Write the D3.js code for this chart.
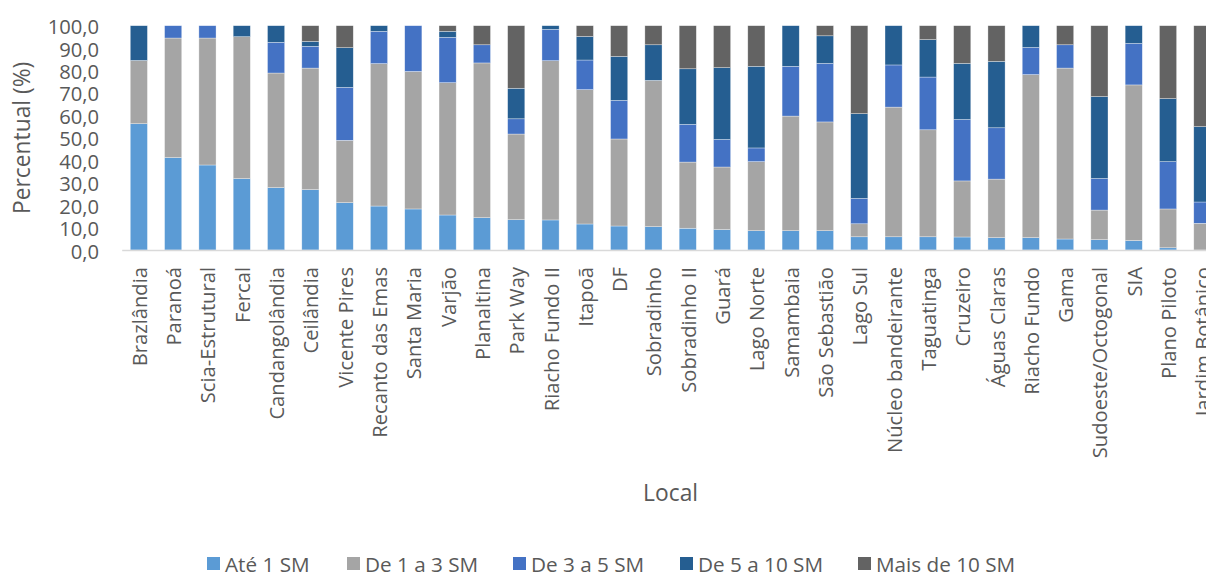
<!DOCTYPE html>
<html>
<head>
<meta charset="utf-8">
<script src="https://cdn.jsdelivr.net/npm/d3@7"></script>
<style>
  body { margin: 0; background: #fff; }
  svg { display: block; }
</style>
</head>
<body>
<svg id="chart" width="1206" height="572"></svg>
<script>
const categories = ["Brazlândia","Paranoá","Scia-Estrutural","Fercal","Candangolândia","Ceilândia","Vicente Pires","Recanto das Emas","Santa Maria","Varjão","Planaltina","Park Way","Riacho Fundo II","Itapoã","DF","Sobradinho","Sobradinho II","Guará","Lago Norte","Samambaia","São Sebastião","Lago Sul","Núcleo bandeirante","Taguatinga","Cruzeiro","Águas Claras","Riacho Fundo","Gama","Sudoeste/Octogonal","SIA","Plano Piloto","Jardim Botânico"];

const seriesNames = ["Até 1 SM","De 1 a 3 SM","De 3 a 5 SM","De 5 a 10 SM","Mais de 10 SM"];

const ate1 =   [56.3,41.2,37.9,31.8,27.8,26.9,21.1,19.6,18.3,15.6,14.4,13.5,13.4,11.6,10.7,10.4,9.7,9.1,8.6,8.6,8.6,5.9,5.9,5.9,5.8,5.5,5.5,4.9,4.6,4.2,1.0,0.0];
const de1a3 =  [28.2,53.3,56.6,63.3,51.1,54.2,27.8,63.5,61.3,59.0,69.0,38.2,71.0,59.9,38.8,65.2,29.5,27.9,30.8,51.1,48.5,5.8,57.8,47.7,25.0,26.1,72.7,76.2,13.2,69.4,17.3,11.9];
const de3a5 =  [0.0,5.5,5.5,0.0,13.7,9.7,23.6,14.4,20.4,20.2,8.1,6.8,14.0,13.2,17.2,0.0,16.8,12.3,6.1,22.2,26.1,11.3,18.8,23.5,27.4,22.9,12.1,10.4,14.1,18.5,21.1,9.5];
const de5a10 = [15.5,0.0,0.0,4.9,7.4,2.2,17.7,2.5,0.0,2.7,0.0,13.6,1.6,10.5,19.6,15.9,24.8,32.0,36.4,18.1,12.3,37.8,17.5,16.7,25.0,29.6,9.7,0.0,36.5,7.9,28.1,33.6];
const mais10 = [0.0,0.0,0.0,0.0,0.0,7.0,9.8,0.0,0.0,2.5,8.5,27.9,0.0,4.8,13.7,8.5,19.2,18.7,18.1,0.0,4.5,39.2,0.0,6.2,16.8,15.9,0.0,8.5,31.6,0.0,32.5,45.0];

const yTicks = [0,10,20,30,40,50,60,70,80,90,100];
const colors = ["#5b9bd5","#a5a5a5","#4472c4","#255e91","#636363"];

const seriesValues = [ate1, de1a3, de3a5, de5a10, mais10];
const rows = categories.map((c, i) => {
  const r = { cat: c };
  seriesNames.forEach((s, k) => r[s] = seriesValues[k][i]);
  return r;
});

const svg = d3.select("#chart");
const FONT = "'Open Sans', 'DejaVu Sans', sans-serif";
const textColor = "#595959";

// Fit font size so widths match the Calibri-based original
const probe = svg.append("text").attr("font-family", FONT).attr("font-size", 100).text("Recanto das Emas");
const probeW = probe.node().getComputedTextLength();
probe.remove();
const k = 1.02 * (7.279 * 100) / probeW;
const fsTick = 23 * k, fsTitle = 26 * k, fsLegend = 23.6 * k;

const x = d3.scaleBand().domain(categories).range([121.7, 1219.5]).paddingInner(0.5).paddingOuter(0.25);
const y = d3.scaleLinear().domain([0, 100]).range([250, 25.7]);

const stacked = d3.stack().keys(seriesNames)(rows);

svg.append("g").selectAll("g").data(stacked).join("g")
  .attr("fill", (d, i) => colors[i])
  .selectAll("rect").data(d => d).join("rect")
  .attr("x", d => x(d.data.cat))
  .attr("width", x.bandwidth())
  .attr("y", d => y(d[1]))
  .attr("height", d => Math.max(0, y(d[0]) - y(d[1])))
  .attr("stroke", "#ffffff").attr("stroke-width", 0.6).attr("stroke-opacity", 0.55);

// X axis
const xAxis = svg.append("g").attr("transform", "translate(0,250)")
  .call(d3.axisBottom(x).tickSize(0).tickSizeOuter(0));
xAxis.select(".domain").attr("stroke", "#d9d9d9").attr("stroke-width", 1.3);
xAxis.selectAll("text")
  .attr("font-family", FONT).attr("font-size", fsTick).attr("fill", textColor)
  .attr("x", 0).attr("y", 0).attr("dy", null)
  .attr("text-anchor", "end").attr("dominant-baseline", "central")
  .attr("transform", "translate(0,17) rotate(-90)");

// Y axis
const yAxis = svg.append("g").attr("transform", "translate(99,0)")
  .call(d3.axisLeft(y).tickValues(yTicks).tickSize(0).tickPadding(0)
    .tickFormat(d => d.toFixed(1).replace(".", ",")));
yAxis.select(".domain").remove();
yAxis.selectAll("text")
  .attr("font-family", FONT).attr("font-size", fsTick).attr("fill", textColor)
  .attr("dy", null).attr("dominant-baseline", "central");

// Axis titles
svg.append("text")
  .attr("transform", `translate(30,${(y(0) + y(100)) / 2}) rotate(-90)`)
  .attr("text-anchor", "middle")
  .attr("font-family", FONT).attr("font-size", fsTitle).attr("fill", textColor)
  .text("Percentual (%)");

svg.append("text")
  .attr("x", (x.range()[0] + x.range()[1]) / 2).attr("y", 501)
  .attr("text-anchor", "middle")
  .attr("font-family", FONT).attr("font-size", fsTitle).attr("fill", textColor)
  .text("Local");

// Legend
const legendX = [207, 347, 513, 680, 858];
const legend = svg.append("g");
seriesNames.forEach((s, i) => {
  const g = legend.append("g").attr("transform", `translate(${legendX[i]},0)`);
  g.append("rect").attr("x", 0).attr("y", 557).attr("width", 13).attr("height", 13).attr("fill", colors[i]);
  g.append("text").attr("x", 18).attr("y", 563.5)
    .attr("dominant-baseline", "central")
    .attr("font-family", FONT).attr("font-size", fsLegend).attr("fill", textColor)
    .text(s);
});
</script>
</body>
</html>
